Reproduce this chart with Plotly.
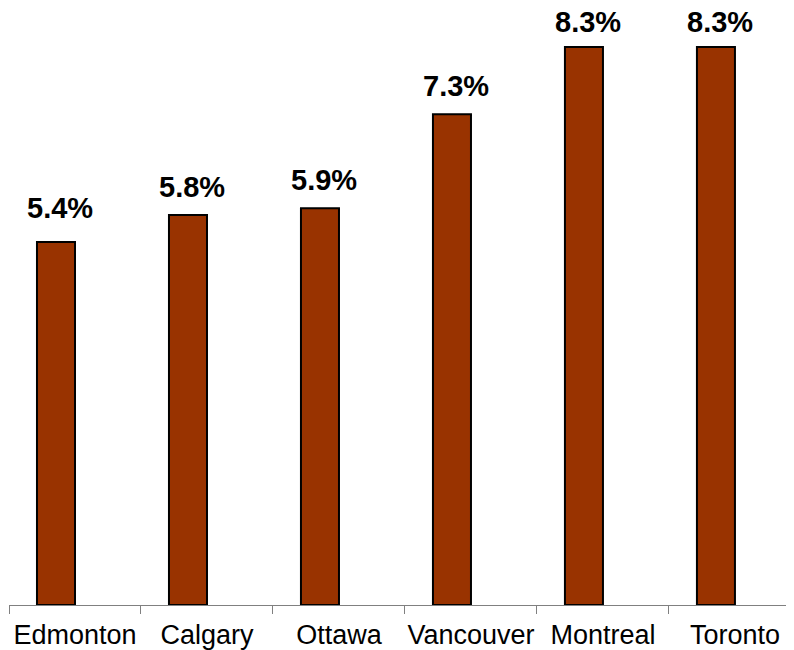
import plotly.graph_objects as go

cities = ["Edmonton", "Calgary", "Ottawa", "Vancouver", "Montreal", "Toronto"]
values = [5.4, 5.8, 5.9, 7.3, 8.3, 8.3]
labels = ["5.4%", "5.8%", "5.9%", "7.3%", "8.3%", "8.3%"]

FONT = "Arial, Liberation Sans, sans-serif"

fig = go.Figure()
fig.add_trace(go.Bar(
    x=cities, y=values,
    width=0.288, offset=-0.288,
    marker=dict(color="#993300", line=dict(color="black", width=2)),
    hoverinfo="skip", cliponaxis=False,
))

for i, (v, t) in enumerate(zip(values, labels)):
    fig.add_annotation(x=i - 0.144 + 0.03, y=v, text="<b>%s</b>" % t, showarrow=False,
                       yanchor="bottom", yshift=16 if i == 0 else (7 if v > 8 else 10),
                       font=dict(family=FONT, size=29, color="black"))

fig.update_layout(
    width=794, height=650,
    margin=dict(l=1, r=0, t=0, b=53, autoexpand=False),
    paper_bgcolor="white", plot_bgcolor="white",
    showlegend=False,
    xaxis=dict(type="category", range=[-0.5, 5.508], tickson="boundaries",
               ticks="outside", ticklen=8, tickcolor="#808080", tickwidth=1,
               showline=True, linecolor="#808080", linewidth=1, tickangle=0,
               ticklabelstandoff=6,
               showgrid=False, zeroline=False, automargin=False,
               tickfont=dict(family=FONT, size=27, color="black")),
    yaxis=dict(range=[0, 8.88], visible=False, showgrid=False, zeroline=False,
               automargin=False),
)

fig.write_html("out.html")
